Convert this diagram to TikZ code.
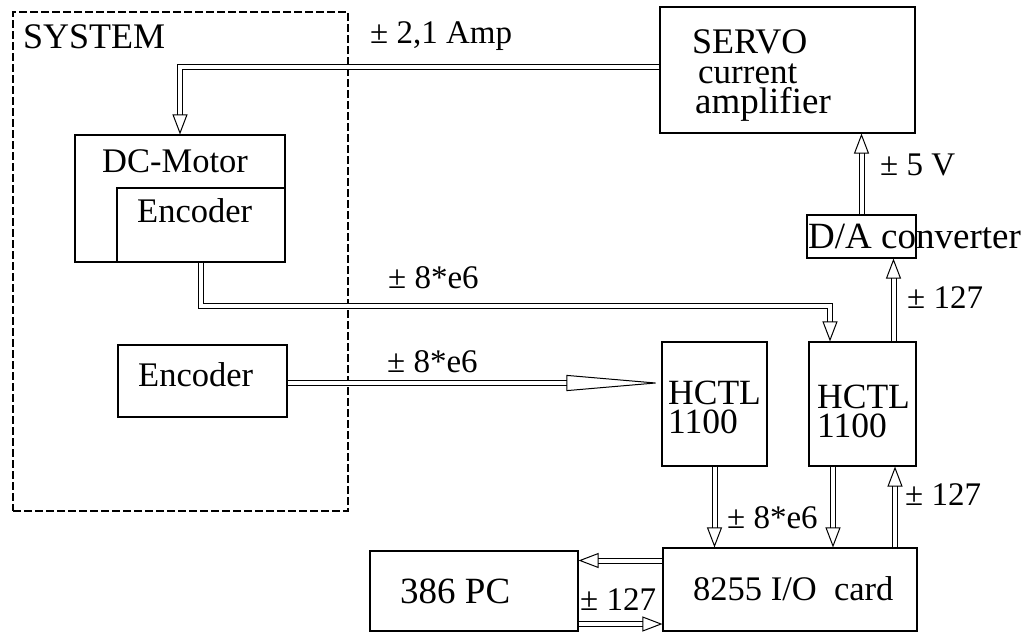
\documentclass[tikz,border=0pt]{standalone}
\usepackage{fontspec}
\setmainfont{Liberation Serif}
\usetikzlibrary{arrows.meta,fit}

\tikzset{
  box/.style={draw, line width=1.1pt, inner sep=0pt},
  bus/.style={double, double distance=4pt, line width=1pt,
    -{Triangle[open, length=20pt, width=15pt, line width=1pt]}},
  longbus/.style={bus, -{Triangle[open, length=95pt, width=16pt, line width=1pt]}},
  txt/.style={anchor=base west, inner sep=0pt, font=\fontsize{33}{36}\selectfont},
  boxtxt/.style={txt, font=\fontsize{34.5}{38}\selectfont},
  bigtxt/.style={txt, font=\fontsize{36}{40}\selectfont},
  chiptxt/.style={txt, align=left, font=\fontsize{35.5}{29}\selectfont},
}

\begin{document}
\begin{tikzpicture}[x=1pt, y=-1pt]
  \useasboundingbox (0,0) rectangle (1026,633);

  % system part
  \node[box, dashed, dash pattern=on 8pt off 3pt, fit={(13,12) (348,511)}] (sys) {};
  \node[box, fit={(75,135) (285,262)}] (motor) {};
  \node[box, fit={(117,188) (285,262)}] (menc) {};
  \node[box, fit={(118,345) (287,417)}] (enc) {};
  \node[bigtxt] (systxt) at (23,48) {SYSTEM};
  \node[boxtxt] (motortxt) at (102,172) {DC-Motor};
  \node[boxtxt] (menctxt) at (137,222) {Encoder};
  \node[boxtxt] (enctxt) at (138,386) {Encoder};

  % servo side (base is the last line)
  \node[box, fit={(660,7) (915,133)}] (servo) {};
  \node[box, fit={(807,215) (916,258)}] (dac) {};
  \node[txt, align=left, font=\fontsize{36}{30}\selectfont] (servotxt) at (692,113)
    {SERVO\\\hspace*{6pt}{\fontsize{35}{30}\selectfont current}\\\hspace*{3pt}{\fontsize{37}{30}\selectfont amplifier}};
  \node[bigtxt, font=\fontsize{37}{40}\selectfont] (dactxt) at (808,248) {D/A converter};

  % counters (base is the second line)
  \node[box, fit={(662,342) (767,466)}] (hctla) {};
  \node[box, fit={(809,342) (916,466)}] (hctlb) {};
  \node[chiptxt] (hatxt) at (668,433) {HCTL\\1100};
  \node[chiptxt] (hbtxt) at (817,437) {HCTL\\1100};

  % pc and card
  \node[box, fit={(370,551) (578,631)}] (pc) {};
  \node[box, fit={(663,548) (917,631)}] (io) {};
  \node[txt, font=\fontsize{37}{40}\selectfont] (pctxt) at (400,603) {386 PC};
  \node[boxtxt] (iotxt) at (693,600) {8255 I/O\ \ card};

  % connections
  \draw[bus] ([yshift=3.5]servo.west) -| (motor.north);
  \draw[bus] (dac.north) -- (dac.north |- servo.south);
  \draw[bus] ([xshift=31]hctlb.north) -- ([xshift=31]hctlb.north |- dac.south);
  \draw[bus] (menc.south) -- ++(0,43) -| ([xshift=-32.5]hctlb.north);
  \draw[longbus] ([yshift=-2]enc.east) -- ([yshift=-2]enc.east -| hctla.west);
  \draw[bus] (hctla.south) -- (hctla.south |- io.north);
  \draw[bus] ([xshift=-29.5]hctlb.south) -- ([xshift=-29.5]hctlb.south |- io.north);
  \draw[bus] ([xshift=32.5]hctlb.south |- io.north) -- ([xshift=32.5]hctlb.south);
  \draw[bus] ([yshift=29]io.west) -- ([yshift=29]io.west -| pc.east);
  \draw[bus] ([yshift=-33]pc.east) -- ([yshift=-33]pc.east -| io.west);

  % signal ranges
  \node[txt] (lamp) at (370,43) {± 2,1 Amp};
  \node[txt] (lvolt) at (880,175) {± 5 V};
  \node[txt] (ldac) at (907,308) {± 127};
  \node[txt] (lposa) at (388,288) {± 8*e6};
  \node[txt] (lposb) at (387,372) {± 8*e6};
  \node[txt] (lio) at (727,528) {± 8*e6};
  \node[txt] (lhctl) at (905,505) {± 127};
  \node[txt] (lpc) at (580,610) {± 127};
\end{tikzpicture}
\end{document}
